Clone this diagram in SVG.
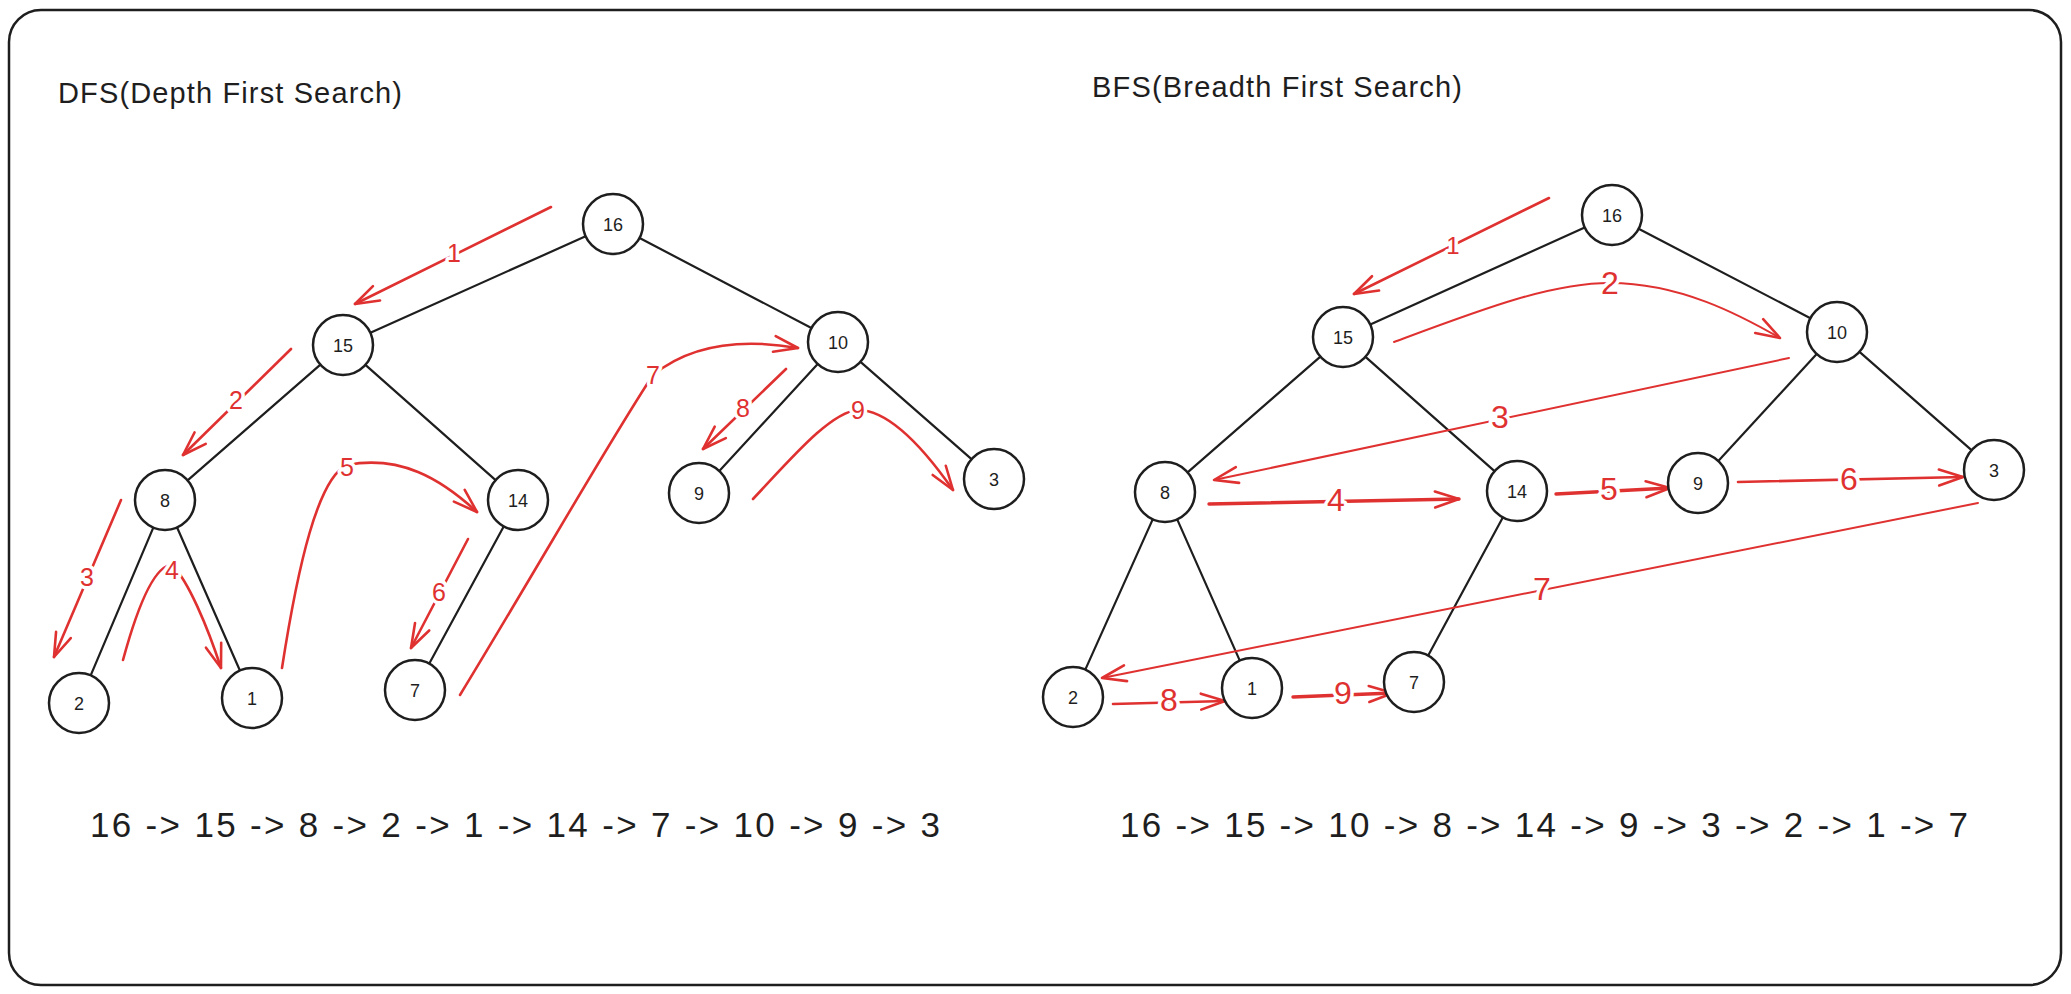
<svg xmlns="http://www.w3.org/2000/svg" width="2071" height="994" viewBox="0 0 2071 994">
<defs>
<style>
.frame{fill:#ffffff;stroke:#1e1e1e;stroke-width:2.5}
.node circle{fill:#ffffff;stroke:#1e1e1e;stroke-width:2.5}
.node text{font-family:"Liberation Sans",Arial,sans-serif;font-size:18px;fill:#1e1e1e;text-anchor:middle}
.edge{stroke:#1e1e1e;stroke-width:2.2;fill:none;stroke-linecap:round}
.red{stroke:#e03131;stroke-width:2.6;fill:none;stroke-linecap:round;marker-end:url(#ah)}
.thick{stroke-width:3.4}
.thin{stroke-width:2}
.lbl{font-family:"Liberation Sans",Arial,sans-serif;fill:#e03131;text-anchor:middle;stroke:#ffffff;stroke-width:7;paint-order:stroke;stroke-linejoin:round}
.s{font-size:25px}
.b{font-size:32px}
.title{font-family:"Liberation Sans",Arial,sans-serif;font-size:29px;fill:#1e1e1e}
.seq{font-family:"Liberation Sans",Arial,sans-serif;font-size:35px;fill:#1e1e1e}
</style>
<marker id="ah" viewBox="-28 -12 32 24" refX="0" refY="0" markerWidth="32" markerHeight="24" markerUnits="userSpaceOnUse" orient="auto">
<path d="M-24,-8 L0,0 L-24,8" fill="none" stroke="#e03131" stroke-width="2.6" stroke-linecap="round" stroke-linejoin="round"/>
</marker>
</defs>
<rect class="frame" x="9" y="10" width="2052" height="975" rx="32"/>
<text class="title" x="58" y="103" textLength="344">DFS(Depth First Search)</text>
<text class="title" x="1092" y="97" textLength="370">BFS(Breadth First Search)</text>

<g id="edges">
<!-- DFS tree -->
<line class="edge" x1="585.6" y1="236.3" x2="370.4" y2="332.7" stroke-width="3"/>
<line class="edge" x1="639.6" y1="238" x2="811.4" y2="328"/>
<line class="edge" x1="320.4" y1="364.7" x2="187.6" y2="480.3" stroke-width="3"/>
<line class="edge" x1="365.4" y1="364.9" x2="495.6" y2="480.1"/>
<line class="edge" x1="153.3" y1="527.6" x2="90.7" y2="675.4" stroke-width="3"/>
<line class="edge" x1="177.1" y1="527.5" x2="239.9" y2="670.5"/>
<line class="edge" x1="503.7" y1="526.4" x2="429.3" y2="663.6" stroke-width="3"/>
<line class="edge" x1="817.7" y1="364.1" x2="719.3" y2="470.9"/>
<line class="edge" x1="860.5" y1="361.8" x2="971.5" y2="459.2"/>
<!-- BFS tree -->
<line class="edge" x1="1584.7" y1="227.4" x2="1370.3" y2="324.6" stroke-width="3"/>
<line class="edge" x1="1638.6" y1="228.8" x2="1810.4" y2="318.2" stroke-width="3"/>
<line class="edge" x1="1320.4" y1="356.7" x2="1187.6" y2="472.3"/>
<line class="edge" x1="1365.5" y1="356.9" x2="1494.5" y2="471.1" stroke-width="3"/>
<line class="edge" x1="1816.7" y1="354.1" x2="1718.3" y2="460.9"/>
<line class="edge" x1="1859.5" y1="351.8" x2="1971.5" y2="450.2" stroke-width="3"/>
<line class="edge" x1="1152.7" y1="519.4" x2="1085.3" y2="669.6" stroke-width="3"/>
<line class="edge" x1="1177.2" y1="519.4" x2="1239.8" y2="660.6" stroke-width="2.6"/>
<line class="edge" x1="1502.8" y1="517.4" x2="1428.2" y2="655.6"/>

<!-- DFS traversal arrows -->
<path class="red" d="M551,207 L355,304"/>
<path class="red" d="M291,349 L183,455"/>
<path class="red" d="M121,500 L54,657"/>
<path class="red" d="M123,660 C138,605 155,565 172,565 C188,580 208,628 221,668"/>
<path class="red" d="M282,668 C298,565 318,478 347,465 C400,455 440,478 477,512"/>
<path class="red" d="M468,539 L411,648"/>
<path class="red" d="M460,695 C545,555 610,440 653,375 C690,345 740,338 798,348"/>
<path class="red" d="M786,369 L703,449"/>
<path class="red" d="M753,499 C790,460 830,412 858,410 C890,410 925,450 953,490"/>

<!-- BFS traversal arrows -->
<path class="red" d="M1549,198 L1354,294"/>
<path class="red thin" d="M1394,342 C1480,310 1550,283 1610,283 C1680,283 1740,315 1780,338"/>
<path class="red thin" d="M1789,358 L1214,480"/>
<path class="red thick" d="M1209,504 L1459,499"/>
<path class="red thick" d="M1556,494 L1670,488"/>
<path class="red" d="M1738,482 L1963,477"/>
<path class="red thin" d="M1978,503 L1102,678"/>
<path class="red" d="M1113,704 L1225,701"/>
<path class="red thick" d="M1293,697 L1393,693"/>

<!-- arrow labels -->
<text class="lbl s" x="454" y="262">1</text>
<text class="lbl s" x="236" y="409">2</text>
<text class="lbl s" x="87" y="586">3</text>
<text class="lbl s" x="172" y="579">4</text>
<text class="lbl s" x="347" y="476">5</text>
<text class="lbl s" x="439" y="601">6</text>
<text class="lbl s" x="653" y="384">7</text>
<text class="lbl s" x="743" y="417">8</text>
<text class="lbl s" x="858" y="419">9</text>

<text class="lbl" style="font-size:24px" x="1453" y="254">1</text>
<text class="lbl b" x="1610" y="294">2</text>
<text class="lbl b" x="1500" y="428">3</text>
<text class="lbl b" x="1336" y="511">4</text>
<text class="lbl b" x="1609" y="500">5</text>
<text class="lbl b" x="1849" y="490">6</text>
<text class="lbl b" x="1542" y="600">7</text>
<text class="lbl b" x="1169" y="711">8</text>
<text class="lbl b" x="1343" y="704">9</text>
</g>

<!-- DFS nodes -->
<g id="dfs-16" class="node"><circle cx="613" cy="224" r="30"/><text x="613" y="230.5">16</text></g>
<g id="dfs-15" class="node"><circle cx="343" cy="345" r="30"/><text x="343" y="351.5">15</text></g>
<g id="dfs-10" class="node"><circle cx="838" cy="342" r="30"/><text x="838" y="348.5">10</text></g>
<g id="dfs-8" class="node"><circle cx="165" cy="500" r="30"/><text x="165" y="506.5">8</text></g>
<g id="dfs-14" class="node"><circle cx="518" cy="500" r="30"/><text x="518" y="506.5">14</text></g>
<g id="dfs-9" class="node"><circle cx="699" cy="493" r="30"/><text x="699" y="499.5">9</text></g>
<g id="dfs-3" class="node"><circle cx="994" cy="479" r="30"/><text x="994" y="485.5">3</text></g>
<g id="dfs-2" class="node"><circle cx="79" cy="703" r="30"/><text x="79" y="709.5">2</text></g>
<g id="dfs-1" class="node"><circle cx="252" cy="698" r="30"/><text x="252" y="704.5">1</text></g>
<g id="dfs-7" class="node"><circle cx="415" cy="690" r="30"/><text x="415" y="696.5">7</text></g>

<!-- BFS nodes -->
<g id="bfs-16" class="node"><circle cx="1612" cy="215" r="30"/><text x="1612" y="221.5">16</text></g>
<g id="bfs-15" class="node"><circle cx="1343" cy="337" r="30"/><text x="1343" y="343.5">15</text></g>
<g id="bfs-10" class="node"><circle cx="1837" cy="332" r="30"/><text x="1837" y="338.5">10</text></g>
<g id="bfs-8" class="node"><circle cx="1165" cy="492" r="30"/><text x="1165" y="498.5">8</text></g>
<g id="bfs-14" class="node"><circle cx="1517" cy="491" r="30"/><text x="1517" y="497.5">14</text></g>
<g id="bfs-9" class="node"><circle cx="1698" cy="483" r="30"/><text x="1698" y="489.5">9</text></g>
<g id="bfs-3" class="node"><circle cx="1994" cy="470" r="30"/><text x="1994" y="476.5">3</text></g>
<g id="bfs-2" class="node"><circle cx="1073" cy="697" r="30"/><text x="1073" y="703.5">2</text></g>
<g id="bfs-1" class="node"><circle cx="1252" cy="688" r="30"/><text x="1252" y="694.5">1</text></g>
<g id="bfs-7" class="node"><circle cx="1414" cy="682" r="30"/><text x="1414" y="688.5">7</text></g>

<text class="seq" x="90" y="837" textLength="850">16 -&gt; 15 -&gt; 8 -&gt; 2 -&gt; 1 -&gt; 14 -&gt; 7 -&gt; 10 -&gt; 9 -&gt; 3</text>
<text class="seq" x="1120" y="837" textLength="848">16 -&gt; 15 -&gt; 10 -&gt; 8 -&gt; 14 -&gt; 9 -&gt; 3 -&gt; 2 -&gt; 1 -&gt; 7</text>
</svg>
